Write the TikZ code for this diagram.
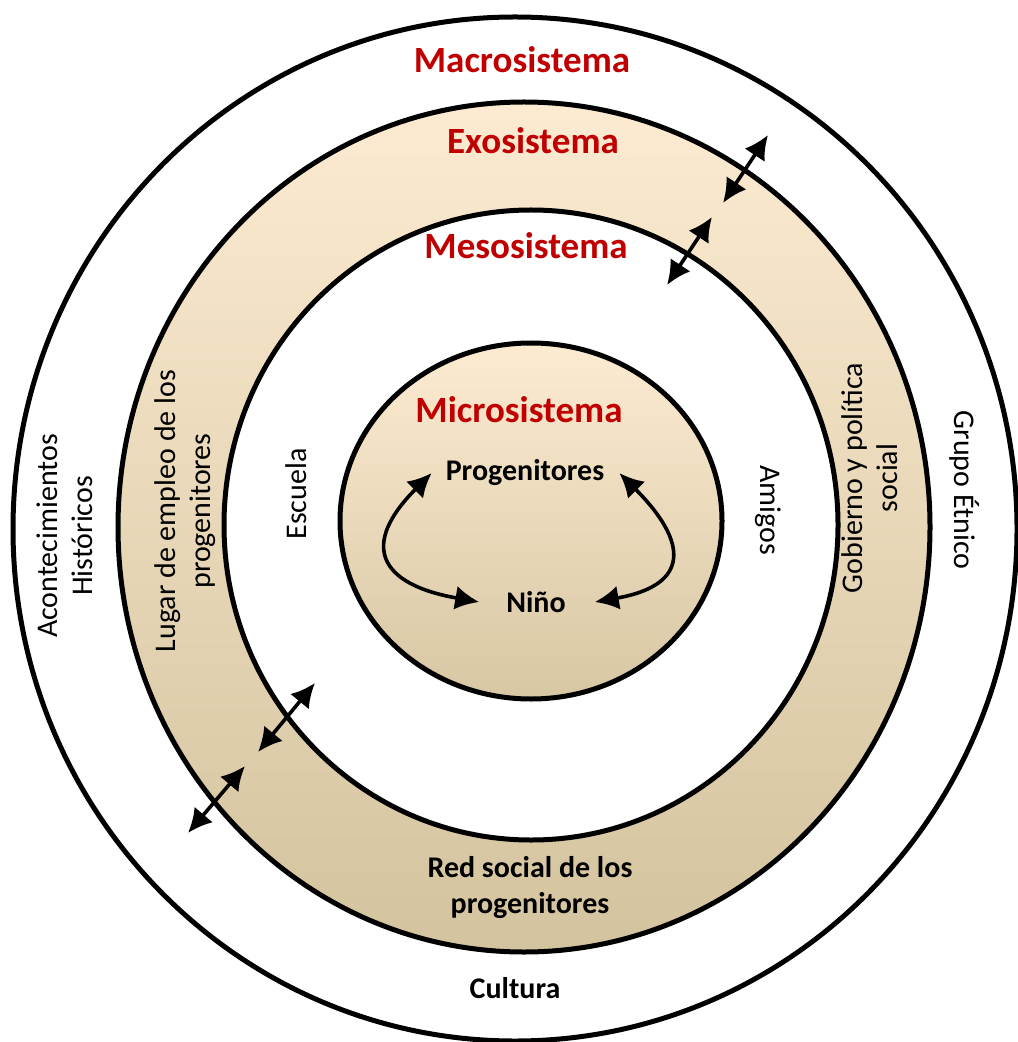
\documentclass[tikz,border=0pt]{standalone}
\usepackage{fontspec}
\setmainfont{Carlito}
\usetikzlibrary{positioning,arrows.meta}
\definecolor{tituloRojo}{HTML}{C00000}
\definecolor{arenaClara}{HTML}{FCEBD1}
\definecolor{arenaOscura}{HTML}{D3C39E}
\tikzstyle{anillo} = [draw, line width=2.5pt]
\tikzstyle{titulo} = [font=\fontsize{18.5}{20}\selectfont\bfseries, text=tituloRojo]
\tikzstyle{etiqueta} = [font=\fontsize{15}{17.5}\selectfont, align=center]
\tikzstyle{negrita} = [etiqueta, font=\fontsize{15}{18}\selectfont\bfseries]
\tikzstyle{flecha} = [{Latex[length=12pt,width=12pt]}-{Latex[length=12pt,width=12pt]}, line width=1.8pt]

\begin{document}
\begin{tikzpicture}[x=0.5pt,y=-0.5pt]
  \useasboundingbox (0,0) rectangle (1017,1042);

  % anillos
  \draw[anillo, fill=white] (515,529) ellipse [x radius=502, y radius=512];
  \draw[anillo, top color=arenaClara, bottom color=arenaOscura] (524,527) ellipse [x radius=406, y radius=425];
  \draw[anillo, fill=white] (531,525) ellipse [x radius=307, y radius=315];
  \draw[anillo, top color=arenaClara, bottom color=arenaOscura!90!arenaClara] (531,521) ellipse [x radius=191, y radius=178];

  \node[titulo] (macro) at (522,60) {Macrosistema};
  \node[titulo] (exo) at (533,141) {Exosistema};
  \node[titulo] (meso) at (526,246) {Mesosistema};
  \node[titulo] (micro) at (519,410) {Microsistema};

  \node[negrita] (prog) at (525,473) {Progenitores};
  \node[negrita] (nino) at (536,602) {Niño};
  \node[negrita] (red) at (530,888) {Red social de los\\progenitores};
  \node[negrita] (cultura) at (515,988) {Cultura};

  \node[etiqueta, rotate=90] (historia) at (65,536) {Acontecimientos\\Históricos};
  \node[etiqueta, rotate=90] (empleo) at (185,511) {Lugar de empleo de los\\progenitores};
  \node[etiqueta, rotate=90] (escuela) at (296,494) {Escuela};
  \node[etiqueta, rotate=-90] (amigos) at (768,510) {Amigos};
  \node[etiqueta, rotate=90] (gobierno) at (870,478) {Gobierno y política\\social};
  \node[etiqueta, rotate=-90] (etnia) at (965,490) {Grupo Étnico};

  % interacciones
  \draw[flecha] ([xshift=-3.5pt]prog.west) to[out=225, in=170, looseness=1.9] ([xshift=-10pt]nino.west);
  \draw[flecha] ([xshift=4pt]prog.east) to[out=-45, in=10, looseness=1.9] ([xshift=11pt]nino.east);

  \coordinate (f1a) at (768,135);
  \coordinate (f1b) at (723,203);
  \coordinate (f2a) at (712,217);
  \coordinate (f2b) at (667,285);
  \coordinate (f3a) at (315,683);
  \coordinate (f3b) at (258,752);
  \coordinate (f4a) at (245,766);
  \coordinate (f4b) at (188,833);
  \draw[flecha] (f1a) -- (f1b);
  \draw[flecha] (f2a) -- (f2b);
  \draw[flecha] (f3a) -- (f3b);
  \draw[flecha] (f4a) -- (f4b);
\end{tikzpicture}
\end{document}
